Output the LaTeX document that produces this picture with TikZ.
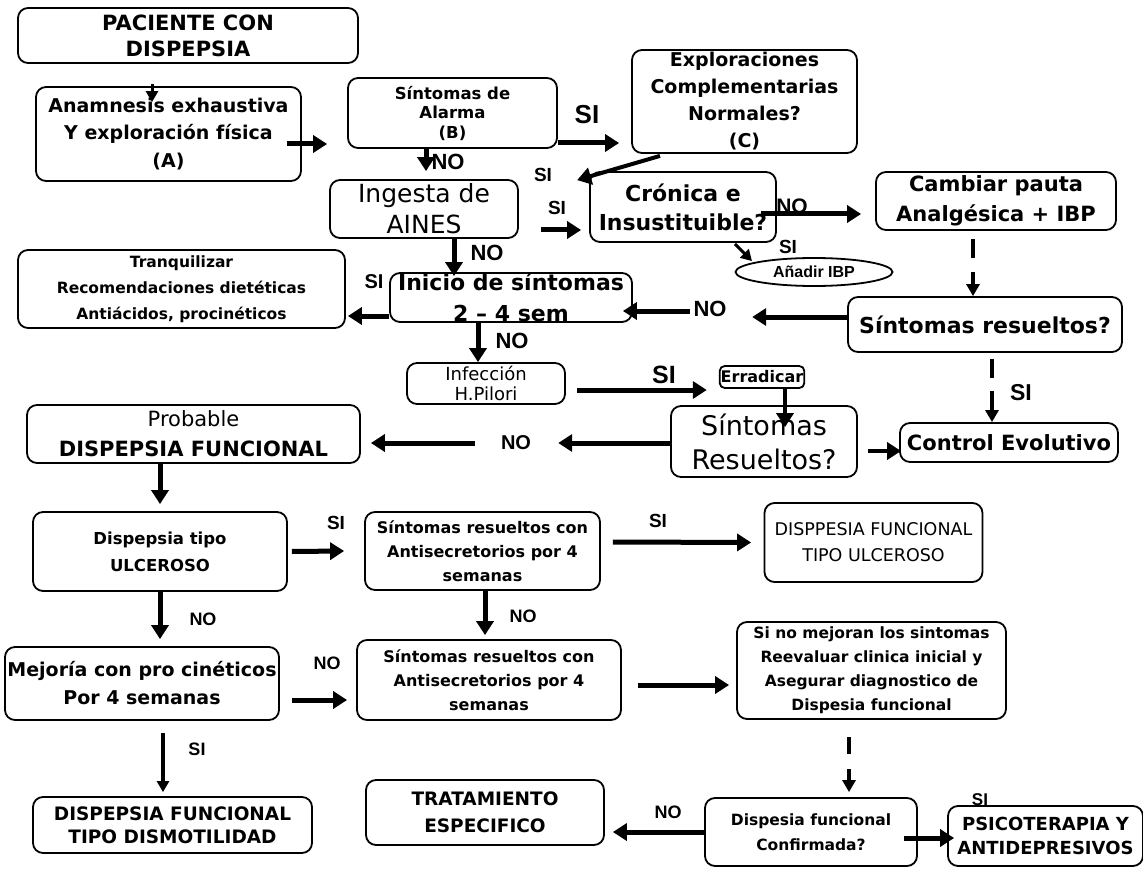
\documentclass[tikz,border=0pt]{standalone}
\usepackage{fontspec}
\setmainfont{DejaVu Sans}
\newfontfamily\labfont{Liberation Sans}
\usepackage{tikz}
\usetikzlibrary{arrows.meta,shapes.geometric}

\newcommand{\fsz}[2]{\fontsize{#1}{#2}\selectfont}

\begin{document}
\begin{tikzpicture}[x=1pt, y=-1pt,
    box/.style={draw, rounded corners=10pt, line width=1.8pt, inner xsep=1pt, inner ysep=-30pt, align=center},
    arrow/.style={-{Triangle[length=14pt,width=17pt]}, line width=5pt},
    thinarrow/.style={-{Triangle[length=11pt,width=12pt]}, line width=3pt},
    dasharrow/.style={-{Triangle[length=12pt,width=13pt]}, line width=4.5pt},
    lab/.style={font=\labfont\bfseries\fsz{#1}{#1}, inner sep=0pt}
]
\useasboundingbox (0,0) rectangle (1143,869);

% boxes
\node[box, minimum width=340pt, minimum height=55pt, font=\fsz{21}{26}\bfseries] (pac) at (188,35.5) {PACIENTE CON\\DISPEPSIA};
\node[box, minimum width=265pt, minimum height=94pt, font=\fsz{19}{27.5}\bfseries] (anam) at (168.5,134) {Anamnesis exhaustiva\\Y exploración física\\(A)};
\node[box, minimum width=209pt, minimum height=70pt, font=\fsz{16.5}{19.5}\bfseries] (alarma) at (452.5,113) {Síntomas de\\Alarma\\(B)};
\node[box, minimum width=225pt, minimum height=103pt, font=\fsz{19}{27}\bfseries] (explor) at (744.5,101.5) {Exploraciones\\Complementarias\\Normales?\\(C)};
\node[box, minimum width=188pt, minimum height=58pt, font=\fsz{25}{31}] (ingesta) at (424,209) {Ingesta de\\AINES};
\node[box, minimum width=186pt, minimum height=70pt, font=\fsz{22}{29}\bfseries] (cronica) at (683,207) {Crónica e\\Insustituible?};
\node[box, minimum width=240pt, minimum height=58pt, font=\fsz{21}{30}\bfseries] (cambiar) at (996,201) {Cambiar pauta\\Analgésica + IBP};
\node[draw, ellipse, line width=1.8pt, minimum width=157pt, minimum height=28pt, inner sep=0pt, font=\labfont\bfseries\fsz{16}{16}] (anadir) at (814,272) {Añadir IBP};
\node[box, minimum width=327pt, minimum height=78pt, font=\fsz{15.5}{26}\bfseries] (tranq) at (181.5,289) {Tranquilizar\\Recomendaciones dietéticas\\Antiácidos, procinéticos};
\node[box, minimum width=242pt, minimum height=49pt, font=\fsz{22}{31}\bfseries] (inicio) at (511,297.5) {Inicio de síntomas\\2 -- 4 sem};
\node[box, minimum width=274pt, minimum height=55pt, font=\fsz{22}{26}\bfseries] (sres) at (985,324.5) {Síntomas resueltos?};
\node[box, minimum width=158pt, minimum height=41pt, font=\fsz{18}{20}] (infeccion) at (486,383.5) {Infección\\H.Pilori};
\node[box, rounded corners=5pt, minimum width=84pt, minimum height=22pt, font=\fsz{16}{16}\bfseries] (erradicar) at (762,377) {Erradicar};
\node[box, minimum width=186pt, minimum height=71pt, font=\fsz{27}{34}] (sres2) at (764,441.5) {Síntomas\\Resueltos?};
\node[box, minimum width=218pt, minimum height=39pt, font=\fsz{21}{24}\bfseries] (control) at (1009,442.5) {Control Evolutivo};
\node[box, minimum width=333pt, minimum height=58pt, font=\fsz{21}{30}] (probable) at (193.5,434) {Probable\\\textbf{DISPEPSIA FUNCIONAL}};
\node[box, minimum width=254pt, minimum height=79pt, font=\fsz{16.5}{27}\bfseries] (ulceroso) at (160,551.5) {Dispepsia tipo\\ULCEROSO};
\node[box, minimum width=235pt, minimum height=78pt, font=\fsz{16}{24}\bfseries] (antisec1) at (482.5,551) {Síntomas resueltos con\\Antisecretorios por 4\\semanas};
\node[box, minimum width=218pt, minimum height=79pt, font=\fsz{17.5}{26}] (dfulc) at (873.5,542.5) {DISPPESIA FUNCIONAL\\TIPO ULCEROSO};
\node[box, minimum width=274pt, minimum height=73pt, font=\fsz{19}{28}\bfseries] (mejoria) at (142,683.5) {Mejoría con pro cinéticos\\Por 4 semanas};
\node[box, minimum width=264pt, minimum height=80pt, font=\fsz{16}{24}\bfseries] (antisec2) at (489,680) {Síntomas resueltos con\\Antisecretorios por 4\\semanas};
\node[box, minimum width=269pt, minimum height=97pt, font=\fsz{15.5}{24}\bfseries] (sinomej) at (871.5,670.5) {Si no mejoran los sintomas\\Reevaluar clinica inicial y\\Asegurar diagnostico de\\Dispesia funcional};
\node[box, minimum width=279pt, minimum height=56pt, font=\fsz{18.5}{23}\bfseries] (dismot) at (172.5,825) {DISPEPSIA FUNCIONAL\\TIPO DISMOTILIDAD};
\node[box, minimum width=238pt, minimum height=65pt, font=\fsz{18.5}{27}\bfseries] (tratam) at (485,812.5) {TRATAMIENTO\\ESPECIFICO};
\node[box, minimum width=212pt, minimum height=68pt, font=\fsz{15.5}{25}\bfseries] (confirm) at (811,832) {Dispesia funcional\\Confirmada?};
\node[box, minimum width=195pt, minimum height=60pt, font=\fsz{18}{24}\bfseries] (psico) at (1045.5,836) {PSICOTERAPIA Y\\ANTIDEPRESIVOS};

% SI / NO labels
\node[lab=26] (siA) at (587,115) {SI};
\node[lab=22] (noAl) at (448,162) {NO};
\node[lab=19] (siB) at (543,175) {SI};
\node[lab=19] (siC) at (557,208) {SI};
\node[lab=21] (noCr) at (792,206) {NO};
\node[lab=19] (siD) at (788,247) {SI};
\node[lab=22] (noIn) at (487,253) {NO};
\node[lab=20] (siE) at (374,282) {SI};
\node[lab=22] (noA) at (710,309) {NO};
\node[lab=22] (noIc) at (512,341) {NO};
\node[lab=25] (siF) at (664,375) {SI};
\node[lab=23] (siG) at (1021,393) {SI};
\node[lab=20] (noB) at (516,443) {NO};
\node[lab=19] (siH) at (336,523) {SI};
\node[lab=19] (siI) at (658,521) {SI};
\node[lab=18] (noUl) at (203,619) {NO};
\node[lab=18] (noAs) at (523,616) {NO};
\node[lab=18] (noMe) at (327,663) {NO};
\node[lab=18] (siJ) at (197,749) {SI};
\node[lab=18] (noCo) at (668,812) {NO};
\node[lab=17] (siK) at (980,800) {SI};

% connectors
\draw[thinarrow] ([xshift=-36pt,yshift=-20pt]pac.south) -- ([xshift=-16.5pt,yshift=-16pt]anam.north);
\draw[arrow] ([xshift=-15pt,yshift=-10pt]anam.east) -- ([xshift=-20pt,yshift=-31pt]alarma.west);
\draw[arrow] ([yshift=-30pt]alarma.east) -- ([xshift=-12pt,yshift=-41.5pt]explor.west);
\draw[arrow, line width=4pt] ([xshift=-84.5pt,yshift=-2pt]explor.south) -- ([xshift=-12pt,yshift=-9pt]cronica.north west);
\draw[arrow] ([xshift=-26.5pt]alarma.south) -- ([xshift=2pt,yshift=8pt]ingesta.north);
\draw[arrow] ([xshift=22pt,yshift=-21pt]ingesta.east) -- ([xshift=-8pt,yshift=-23pt]cronica.west);
\draw[arrow] ([xshift=-16pt,yshift=-7pt]cronica.east) -- ([xshift=-14pt,yshift=-13pt]cambiar.west);
\draw[thinarrow] ([xshift=52pt,yshift=-1pt]cronica.south) -- ([xshift=-62pt,yshift=-4pt]anadir.north);
\draw[dasharrow, dash pattern=on 19pt off 14pt] ([xshift=-23pt,yshift=-8pt]cambiar.south) -- ([xshift=-12pt]sres.north);
\draw[arrow] ([xshift=30pt]ingesta.south) -- ([xshift=-57pt,yshift=-4pt]inicio.north);
\draw[arrow] ([yshift=-18.5pt]inicio.west) -- ([xshift=2pt,yshift=-27pt]tranq.east);
\draw[arrow] ([yshift=7.5pt]sres.west) -- ([xshift=25.5pt,yshift=-8pt]noA.east);
\draw[arrow] ([xshift=-3.5pt,yshift=-2pt]noA.west) -- ([xshift=-10pt,yshift=-13.5pt]inicio.east);
\draw[arrow] ([xshift=-33pt]inicio.south) -- ([xshift=-8pt]infeccion.north);
\draw[arrow] ([xshift=11pt,yshift=-6.5pt]infeccion.east) -- ([xshift=-12pt,yshift=-13pt]erradicar.west);
\draw[arrow, line width=4pt] ([xshift=23pt]erradicar.south) -- ([xshift=21pt,yshift=-22pt]sres2.north);
\draw[dasharrow, dash pattern=on 19pt off 13pt] ([xshift=7pt,yshift=-6pt]sres.south) -- ([xshift=-17pt]control.north);
\draw[arrow, line width=4pt] ([xshift=10pt,yshift=-9.5pt]sres2.east) -- ([xshift=2pt,yshift=-8.5pt]control.west);
\draw[arrow] ([yshift=-1.5pt]sres2.west) -- ([xshift=27pt]noB.east);
\draw[arrow] ([xshift=-26pt]noB.west) -- ([xshift=10pt,yshift=-9pt]probable.east);
\draw[arrow] ([xshift=-33.5pt]probable.south) -- ([yshift=7pt]ulceroso.north);
\draw[arrow] (ulceroso.south) -- ([xshift=18pt,yshift=7pt]mejoria.north);
\draw[arrow] ([xshift=4pt]ulceroso.east) -- ([xshift=-20pt]antisec1.west);
\draw[arrow] ([xshift=12pt,yshift=9pt]antisec1.east) -- ([xshift=-12.5pt]dfulc.west);
\draw[arrow] ([xshift=2.5pt]antisec1.south) -- ([xshift=-4pt,yshift=4pt]antisec2.north);
\draw[arrow] ([xshift=12pt,yshift=-16.5pt]mejoria.east) -- ([xshift=-9pt,yshift=-20pt]antisec2.west);
\draw[arrow] ([xshift=16pt,yshift=-5pt]antisec2.east) -- ([xshift=-7pt,yshift=-14.5pt]sinomej.west);
\draw[dasharrow, line width=4pt, dash pattern=on 17pt off 15pt] ([xshift=-22.5pt,yshift=-17pt]sinomej.south) -- ([xshift=38pt,yshift=5pt]confirm.north);
\draw[thinarrow, line width=3.5pt] ([xshift=21pt,yshift=-12pt]mejoria.south) -- ([xshift=-9.5pt,yshift=4pt]dismot.north);
\draw[arrow] (confirm.west) -- ([xshift=8pt,yshift=-19.5pt]tratam.east);
\draw[arrow] ([xshift=-14pt,yshift=-6pt]confirm.east) -- ([xshift=7pt,yshift=-2pt]psico.west);

\end{tikzpicture}
\end{document}
